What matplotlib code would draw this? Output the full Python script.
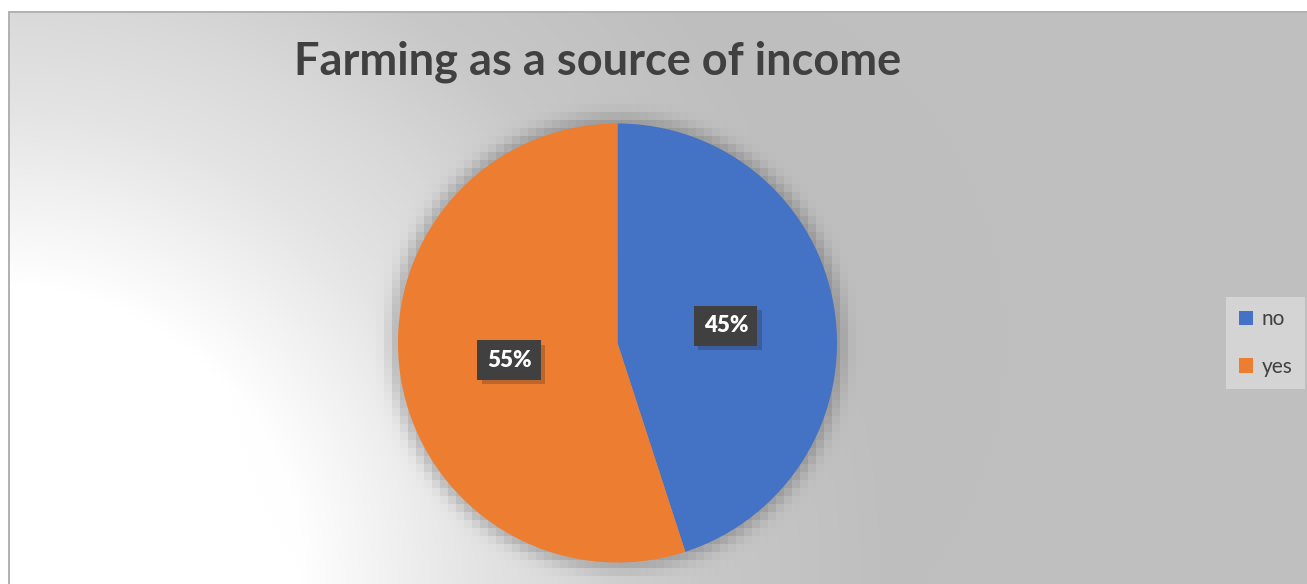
import numpy as np
import matplotlib
matplotlib.use("Agg")
import matplotlib.pyplot as plt
import matplotlib.patheffects as pe

# Survey answers
categories = ["no", "yes"]
shares = [45, 55]
slice_colors = ["#4472C4", "#ED7D31"]
title = "Farming as a source of income"

W, H, DPI = 1307, 584, 100
plt.rcParams["font.family"] = ["Lato", "DejaVu Sans"]

fig = plt.figure(figsize=(W / DPI, H / DPI), dpi=DPI)

# background: radial grey gradient from the lower-left corner, plus pie shadow
yy, xx = np.mgrid[0:H, 0:W].astype(float)
r = np.hypot(xx - 0, yy - H)
grey = np.interp(r, [0, 300, 475, 575, 700, 880], [255, 255, 228, 217, 200, 191])

cx, cy, R = 617.5, 343.0, 219.5
blk = 8
bx = (np.floor(xx / blk) + 0.5) * blk
by = (np.floor(yy / blk) + 0.5) * blk
d = np.hypot(bx - cx, by - cy)
shadow = 0.5 * (1 - np.tanh((d - (R + 7)) / 9.0)) * 0.24
grey = grey * (1 - shadow)

img = np.repeat(grey[:, :, None], 3, axis=2) / 255.0
img[:11, :] = 1.0
img[:, :8] = 1.0
img[11:13, 8:] = 0.70
img[11:, 8:10] = 0.70

ax_bg = fig.add_axes([0, 0, 1, 1])
ax_bg.imshow(img, extent=(0, W, H, 0), interpolation="nearest", aspect="auto")
ax_bg.axis("off")

# pie
ax = fig.add_axes([(cx - R) / W, (H - cy - R) / H, 2 * R / W, 2 * R / H])
wedges, _, autotexts = ax.pie(
    shares, colors=slice_colors, startangle=90, counterclock=False,
    autopct="%1.0f%%", pctdistance=0.5,
    wedgeprops=dict(linewidth=0),
)
for t in autotexts:
    t.set_color("white")
    t.set_fontsize(16)
    t.set_fontweight("heavy")
    t.set_bbox(dict(boxstyle="square,pad=0.42", facecolor="#404040", edgecolor="none"))
    t.get_bbox_patch().set_path_effects(
        [pe.SimplePatchShadow(offset=(3, -3), alpha=0.22), pe.Normal()])
ax.set_xlim(-1, 1)
ax.set_ylim(-1, 1)
ax.set_aspect("equal")
ax.axis("off")

fig.text(598 / W, 1 - 62 / H, title, ha="center", va="center",
         fontsize=32.5, fontweight="bold", color="#404040")

leg = fig.legend(wedges, categories, loc="center left",
                 bbox_to_anchor=(1226 / W, 1 - 343 / H),
                 frameon=True, fancybox=False, fontsize=15,
                 handlelength=0.7, handleheight=0.7, handletextpad=0.4,
                 labelspacing=1.3, borderpad=0.6, borderaxespad=0)
leg.get_frame().set_facecolor("#D4D4D4")
leg.get_frame().set_edgecolor("none")
leg.get_frame().set_alpha(1)
for txt in leg.get_texts():
    txt.set_color("#404040")

fig.savefig("out.png", dpi=DPI)
